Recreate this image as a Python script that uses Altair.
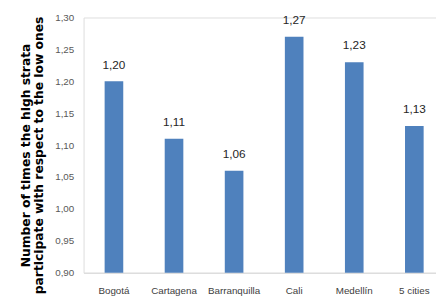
import altair as alt
import pandas as pd

cities = ["Bogotá", "Cartagena", "Barranquilla", "Cali", "Medellín", "5 cities"]
values = [1.20, 1.11, 1.06, 1.27, 1.23, 1.13]
y_ticks = [0.90, 0.95, 1.00, 1.05, 1.10, 1.15, 1.20, 1.25, 1.30]

df = pd.DataFrame({"city": cities, "value": values})

x_scale = alt.Scale(paddingInner=0.69, paddingOuter=0.278, align=0.63)
x_axis = alt.Axis(
    labelAngle=0,
    labelFont="Liberation Sans",
    labelFontSize=10,
    labelColor="#404040",
    labelPadding=13,
    ticks=False,
    domainColor="#d9d9d9",
    domainWidth=1,
)

y_scale = alt.Scale(domain=[0.9, 1.3], zero=False, nice=False)
y_axis = alt.Axis(
    values=y_ticks,
    labelExpr="replace(format(datum.value, '.2f'), '.', ',')",
    labelFont="Liberation Sans",
    labelFontSize=10,
    labelColor="#595959",
    labelPadding=10,
    labelOverlap=False,
    labelSeparation=0,
    ticks=False,
    domain=False,
    grid=False,
    title=["Number of times the high strata", "participate with respect to the low ones"],
    titleFont="DejaVu Sans",
    titleFontSize=12.5,
    titleFontWeight="bold",
    titleColor="#000000",
    titleAngle=-90,
    titleX=-65,
    titleY=140,
    titleAlign="center",
    titleBaseline="top",
    titleLineHeight=13,
)

base = alt.Chart(df)

bars = base.mark_bar(color="#4F81BD").encode(
    x=alt.X("city:N", sort=cities, title=None, scale=x_scale, axis=x_axis),
    y=alt.Y("value:Q", scale=y_scale, axis=y_axis),
    y2=alt.datum(0.9),
)

labels = base.transform_calculate(
    lab="replace(format(datum.value, '.2f'), '.', ',')"
).mark_text(
    font="Liberation Sans", fontSize=12, color="#262626", baseline="middle", dy=-17
).encode(
    x=alt.X("city:N", sort=cities, title=None, scale=x_scale, axis=x_axis),
    y=alt.Y("value:Q", scale=y_scale, axis=y_axis),
    text="lab:N",
)

chart = (
    alt.layer(bars, labels)
    .properties(
        width=359,
        height=260,
        autosize=alt.AutoSizeParams(type="none"),
        padding={"left": 77, "top": 7, "right": 0, "bottom": 21},
    )
    .configure_view(stroke=None)
    .configure(background="white")
)

chart.save("out.html", embed_options={"renderer": "svg", "actions": False})
